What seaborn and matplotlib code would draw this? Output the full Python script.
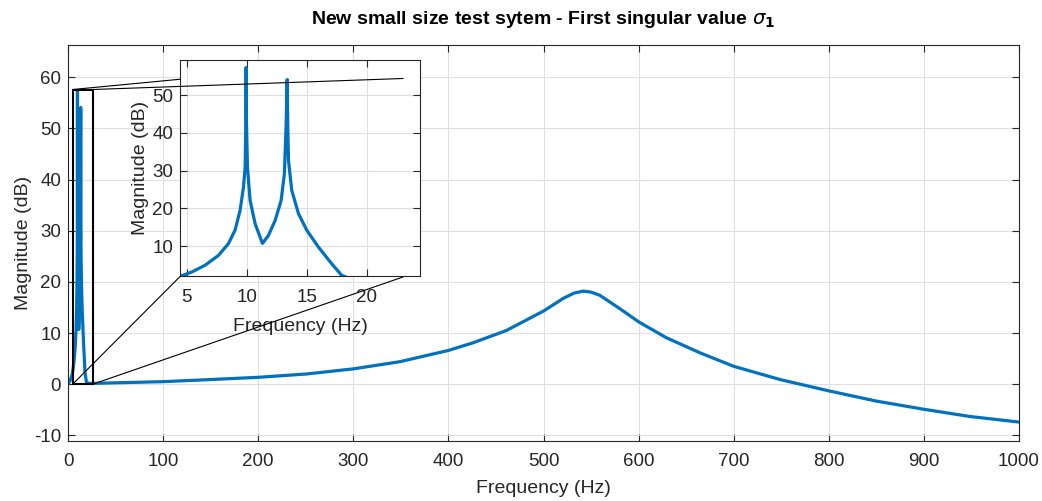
import numpy as np
import pandas as pd
import matplotlib
matplotlib.use("Agg")
import matplotlib.pyplot as plt
from matplotlib.patches import Rectangle, ConnectionPatch
import seaborn as sns

# ---- data ----
freq_hz = [0.0, 2.0, 3.5, 4.45, 5.42, 6.53, 7.64, 8.47, 9.03, 9.45, 9.73, 9.87,
           9.93, 9.95, 9.97, 10.06, 10.28, 10.7, 11.31, 11.81, 12.37, 12.87,
           13.14, 13.28, 13.37, 13.42, 13.48, 13.75, 14.31, 15.0, 15.98, 17.08,
           17.92, 19.5, 23.1, 100, 149, 200, 251, 300, 349, 400, 426, 461, 500,
           521, 532, 542, 550, 559, 580, 600, 629, 665, 700, 749, 800, 850, 900,
           948, 1000]
mag_db = [0.0, 0.6, 1.4, 1.96, 3.1, 4.9, 7.5, 10.6, 14.2, 19.5, 25.6, 31.0,
          44.0, 57.3, 44.0, 31.0, 22.1, 15.9, 10.7, 12.8, 16.8, 22.1,
          29.2, 41.6, 54.1, 42.0, 32.7, 24.8, 18.6, 14.2, 9.7, 5.3,
          2.2, 0.3, 0.15, 0.5, 0.9, 1.35, 2.0, 3.0, 4.4, 6.6, 8.1, 10.5, 14.3,
          16.8, 17.8, 18.2, 18.0, 17.4, 14.8, 12.2, 9.1, 6.1, 3.5, 0.9, -1.3, -3.3, -4.9,
          -6.3, -7.4]

main_xticks = list(range(0, 1001, 100))
main_yticks = list(range(-10, 61, 10))
inset_xticks = [5, 10, 15, 20]
inset_yticks = [10, 20, 30, 40, 50]

title_text = r"New small size test sytem - First singular value $\sigma_{\mathbf{1}}$"
xlabel_text = "Frequency (Hz)"
ylabel_text = "Magnitude (dB)"

df = pd.DataFrame({"freq": freq_hz, "mag": mag_db})

# ---- style ----
sns.set_theme(style="whitegrid")
plt.rcParams["font.family"] = ["Liberation Sans", "DejaVu Sans"]
plt.rcParams["mathtext.fontset"] = "dejavusans"
plt.rcParams["axes.unicode_minus"] = False
TXT = "#262626"
GRID = "#dfdfdf"
LINE = "#0072BD"

fig = plt.figure(figsize=(10.42, 5.01), dpi=100)
W, H = 1042, 501

def ax_rect(l, t, r, b):
    return [l / W, (H - b) / H, (r - l) / W, (b - t) / H]

def style_axes(ax):
    ax.set_facecolor("white")
    ax.grid(True, color=GRID, linewidth=0.8)
    ax.set_axisbelow(True)
    for s in ax.spines.values():
        s.set_visible(True)
        s.set_color(TXT)
        s.set_linewidth(0.8)
    ax.tick_params(direction="in", length=5, width=0.8, color=TXT,
                   labelcolor=TXT, labelsize=13.5, top=True, right=True,
                   bottom=True, left=True)
    ax.tick_params(axis="x", pad=9)
    ax.tick_params(axis="y", pad=5)

ax = fig.add_axes(ax_rect(68, 45, 1019, 441))
style_axes(ax)
sns.lineplot(data=df, x="freq", y="mag", ax=ax, color=LINE, linewidth=2.3,
             estimator=None, sort=False)
ax.set_xlim(0, 1000)
ax.set_ylim(-11.1, 66.3)
ax.set_xticks(main_xticks)
ax.set_yticks(main_yticks)
ax.set_xlabel(xlabel_text, fontsize=14, color=TXT, labelpad=7)
ax.set_ylabel(ylabel_text, fontsize=14, color=TXT, labelpad=1)
ax.set_title(title_text, fontsize=14, fontweight="bold", color="black", pad=15)

# zoom rectangle
rx0, rx1, ry0, ry1 = 4.9, 26.0, 0.0, 57.6
ax.add_patch(Rectangle((rx0, ry0), rx1 - rx0, ry1 - ry0, fill=False,
                       edgecolor="black", linewidth=1.5, zorder=5))

# inset
axi = fig.add_axes(ax_rect(180, 60, 420, 276))
style_axes(axi)
sns.lineplot(data=df, x="freq", y="mag", ax=axi, color=LINE, linewidth=2.3,
             estimator=None, sort=False)
axi.set_xlim(4.44, 24.44)
axi.set_ylim(2.05, 59.3)
axi.set_xticks(inset_xticks)
axi.set_yticks(inset_yticks)
axi.set_xlabel(xlabel_text, fontsize=14, color=TXT, labelpad=9)
axi.set_ylabel(ylabel_text, fontsize=14, color=TXT, labelpad=2)

# connector lines
conns = [((rx0, ry1), (4.44, 54.2)),
         ((rx1, ry1), (23.03, 54.4)),
         ((rx0, ry0), (4.44, 1.9)),
         ((rx1, ry0), (23.03, 1.8))]
for pa, pb in conns:
    cp = ConnectionPatch(xyA=pa, coordsA=ax.transData, xyB=pb, coordsB=axi.transData,
                         color="black", linewidth=0.8, zorder=10)
    cp.set_clip_on(False)
    fig.add_artist(cp)

fig.savefig("out.png", dpi=100, facecolor="white")
